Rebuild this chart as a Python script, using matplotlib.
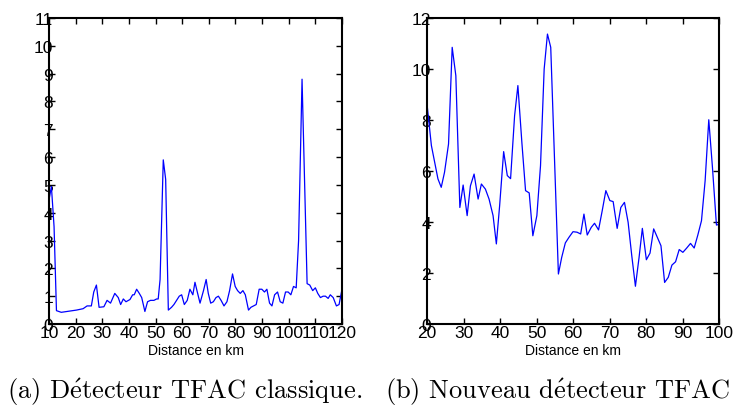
import matplotlib
matplotlib.use("Agg")
import matplotlib.pyplot as plt
from matplotlib import font_manager

# ---- data ------------------------------------------------------------
# (a) classical TFAC detector
km_a = [10.0, 10.9, 11.9, 12.8, 14.6, 20.3, 22.8, 24.3, 25.9, 26.8, 27.8, 28.8,
        30.6, 31.8, 33.1, 34.7, 36.0, 36.9, 37.9, 38.9, 40.4, 41.4, 42.0, 42.9,
        43.9, 44.8, 46.0, 47.0, 48.1, 49.4, 50.4, 51.0, 51.7, 52.9, 53.8, 54.8,
        56.0, 56.9, 57.9, 58.9, 59.8, 60.8, 61.9, 62.9, 64.0, 64.8, 65.8, 66.7,
        68.0, 69.0, 69.8, 70.7, 71.7, 72.7, 73.6, 74.6, 75.7, 76.8, 77.8, 78.9,
        79.9, 80.8, 81.8, 82.8, 83.7, 84.9, 85.8, 86.8, 87.8, 88.9, 89.9, 90.9,
        91.8, 92.8, 93.7, 94.7, 95.8, 96.8, 97.8, 98.8, 99.8, 100.8, 101.8, 102.8,
        103.7, 105.0, 106.9, 107.9, 109.0, 110.0, 110.9, 111.9, 112.9, 113.8,
        114.8, 115.6, 116.7, 117.9, 118.9, 120.0]
val_a = [4.46, 4.94, 3.5, 0.48, 0.42, 0.5, 0.55, 0.65, 0.65, 1.15, 1.4, 0.6,
         0.62, 0.85, 0.75, 1.1, 0.95, 0.7, 0.9, 0.8, 0.88, 1.05, 1.05, 1.25,
         1.1, 0.95, 0.45, 0.8, 0.85, 0.85, 0.9, 0.9, 1.6, 5.9, 5.2, 0.5,
         0.6, 0.7, 0.85, 1.0, 1.05, 0.7, 0.85, 1.25, 1.05, 1.5, 1.1, 0.75,
         1.2, 1.6, 1.1, 0.75, 0.8, 0.95, 1.0, 0.85, 0.65, 0.8, 1.2, 1.8,
         1.35, 1.2, 1.1, 1.2, 1.05, 0.5, 0.6, 0.65, 0.7, 1.25, 1.25, 1.15,
         1.25, 0.75, 0.65, 1.05, 1.15, 0.8, 0.75, 1.15, 1.15, 1.05, 1.35, 1.3,
         3.0, 8.8, 1.45, 1.4, 1.2, 1.3, 1.1, 0.95, 1.0, 1.0,
         0.92, 1.05, 0.95, 0.65, 0.7, 1.25]

# (b) new TFAC detector
km_b = [20.0, 21.2, 23.0, 23.9, 24.8, 25.9, 26.9, 27.9, 29.0, 29.9, 31.0, 31.9,
        32.9, 34.0, 34.9, 36.0, 37.0, 38.1, 39.0, 39.9, 41.0, 42.0, 42.9, 44.0,
        44.9, 46.0, 47.0, 48.0, 49.0, 50.1, 51.1, 52.1, 53.0, 53.9, 56.0, 56.9,
        57.9, 58.9, 60.0, 61.1, 62.1, 63.0, 63.9, 65.0, 65.9, 67.0, 68.0, 69.0,
        70.1, 71.0, 72.1, 73.1, 74.1, 75.1, 76.1, 77.1, 78.1, 79.0, 80.1, 81.1,
        82.1, 83.1, 84.1, 85.1, 86.1, 87.1, 88.1, 89.1, 90.1, 91.1, 92.2, 93.2,
        94.2, 95.2, 96.2, 97.2, 98.2, 99.3, 100.0]
val_b = [8.63, 7.0, 5.69, 5.36, 5.95, 7.06, 10.85, 9.74, 4.57, 5.45, 4.25, 5.42,
         5.88, 4.9, 5.49, 5.29, 4.9, 4.25, 3.14, 4.64, 6.76, 5.82, 5.7, 8.17,
         9.35, 7.1, 5.23, 5.14, 3.46, 4.25, 6.21, 10.0, 11.37, 10.85, 1.96, 2.61,
         3.18, 3.4, 3.62, 3.6, 3.53, 4.31, 3.49, 3.79, 3.95, 3.69, 4.44, 5.23,
         4.84, 4.8, 3.75, 4.57, 4.77, 3.99, 2.68, 1.48, 2.61, 3.75, 2.52, 2.78,
         3.73, 3.4, 3.07, 1.63, 1.83, 2.31, 2.44, 2.92, 2.81, 2.97, 3.16, 2.98,
         3.49, 4.05, 5.62, 8.01, 6.15, 3.88, 3.91]

xticks_a = list(range(10, 121, 10))
yticks_a = list(range(0, 12))
xticks_b = list(range(20, 101, 10))
yticks_b = list(range(0, 13, 2))

# accent drawn through mathtext so the whole caption stays in Computer Modern
captions = [r"(a) D$\acute{\mathrm{e}}$tecteur TFAC classique.",
            r"(b) Nouveau d$\acute{\mathrm{e}}$tecteur TFAC"]
xlabel = "Distance en km"

# ---- fonts ---------------------------------------------------------------
plt.rcParams["mathtext.fontset"] = "cm"
names = {f.name for f in font_manager.fontManager.ttflist}
tick_font = ["Liberation Sans Narrow", "Liberation Sans", "DejaVu Sans"]
tick_font = [f for f in tick_font if f in names] or ["DejaVu Sans"]
cap_font = ["cmr10", "DejaVu Serif"]

W, H = 736, 414
fig = plt.figure(figsize=(W / 100, H / 100), dpi=100)


def make_ax(x0, x1, km, val, xt, yt, cap, cx):
    ax = fig.add_axes([x0 / W, 1 - 325 / H, (x1 - x0) / W, (325 - 19) / H])
    ax.plot(km, val, color="#0000ff", lw=0.9)
    ax.set_xlim(xt[0], xt[-1])
    ax.set_ylim(yt[0], yt[-1])
    ax.set_xticks(xt)
    ax.set_yticks(yt)
    ax.tick_params(direction="in", top=True, right=True, length=4, width=1,
                   labelsize=12.5, pad=1)
    ax.tick_params(axis="y", pad=-3)
    for lab in ax.get_xticklabels() + ax.get_yticklabels():
        lab.set_family(tick_font)
    for sp in ax.spines.values():
        sp.set_linewidth(1.5)
    ax.set_xlabel(xlabel, family=tick_font, fontsize=10, labelpad=2)
    fig.text(cx / W, 1 - 392 / H, cap, family=cap_font, fontsize=19,
             ha="center", va="center")
    return ax


make_ax(49, 342, km_a, val_a, xticks_a, yticks_a, captions[0], 185)
make_ax(427, 719, km_b, val_b, xticks_b, yticks_b, captions[1], 558)

fig.savefig("out.png", dpi=100)
